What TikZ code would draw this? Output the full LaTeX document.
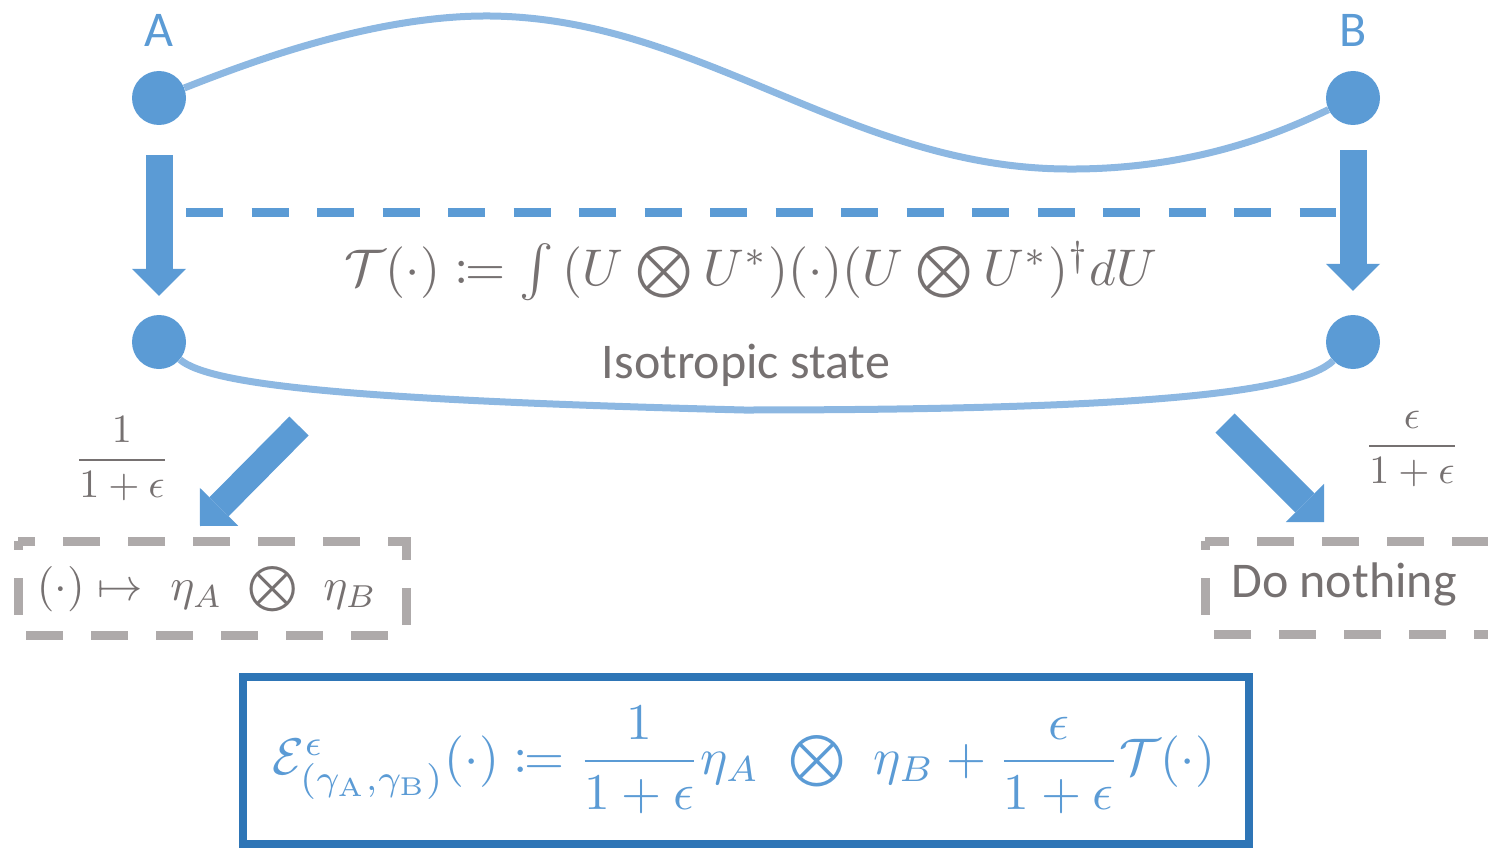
\documentclass[tikz,border=0pt]{standalone}
\usepackage{mathtools}
\usepackage{graphicx}
\usepackage{fontspec}
\usetikzlibrary{arrows.meta}
\newfontfamily\calib{Carlito}
\definecolor{nodeblue}{HTML}{5B9BD5}
\definecolor{linkblue}{HTML}{8DB8E2}
\definecolor{txtgray}{HTML}{767171}
\definecolor{boxgray}{HTML}{AEAAAA}
\definecolor{frameblue}{HTML}{2E75B6}
\newcommand{\bigtens}{\mathbin{\bigotimes}}
\begin{document}
\begin{tikzpicture}[x=1pt,y=-1pt,
  qubit/.style={circle,fill=nodeblue,minimum size=54pt,inner sep=0pt},
  link/.style={draw=linkblue,line width=7pt},
  fatarrow/.style={draw=nodeblue,line width=27pt,-{Triangle[length=27pt,width=54pt,line width=0pt]}},
  graybox/.style={draw=boxgray,line width=9pt,dash pattern=on 37pt off 28pt,dash phase=28pt},
  lbl/.style={font=\calib\fontsize{50}{60}\selectfont,inner sep=0pt},
  formula/.style={inner sep=0pt}]
\useasboundingbox (0,0) rectangle (1488,848);

% qubits
\node[qubit] (A) at (159,98) {};
\node[qubit] (B) at (1353,98) {};
\node[qubit] (A2) at (159,342) {};
\node[qubit] (B2) at (1353,342) {};
\node[lbl,text=nodeblue,anchor=base] (labA) at (159,47) {A};
\node[lbl,text=nodeblue,anchor=base] (labB) at (1353,47) {B};

% entangling links
\draw[link] (A) .. controls (260,58) and (380,15) .. (490,16)
  .. controls (700,18) and (850,168) .. (1067,169)
  .. controls (1200,170) and (1290,128) .. (B);
\draw[link] (A2) .. controls (210,385) and (350,400) .. (744,410)
  .. controls (1150,410) and (1300,392) .. (B2);

% twirl arrows
\draw[fatarrow,shorten <=30pt,shorten >=19pt] (A) -- (A2);
\draw[fatarrow,shorten <=25pt,shorten >=24pt] (B) -- (B2);
\coordinate (dashL) at (186,212);
\coordinate (dashR) at (1336,212);
\draw[draw=nodeblue,line width=9pt,dash pattern=on 37pt off 28.5pt] (dashL) -- (dashR);

\node[formula,text=txtgray] (Tdef) at (751,271)
  {\resizebox{813pt}{!}{$\mathcal{T}(\cdot)\coloneqq\int\,(U\bigtens U^{*})(\cdot)(U\bigtens U^{*})^{\dagger}dU$}};
\node[lbl,text=txtgray,anchor=base] (iso) at (746,378) {Isotropic state};

% branches
\coordinate (dl0) at (299,426);
\coordinate (dl1) at (200,526);
\coordinate (dr0) at (1225,423);
\coordinate (dr1) at (1324,522);
\draw[fatarrow] (dl0) -- (dl1);
\draw[fatarrow] (dr0) -- (dr1);

\node[formula,text=txtgray] (p1) at (122,459)
  {\resizebox{95pt}{!}{$\dfrac{1}{1+\epsilon}$}};
\node[formula,text=txtgray] (p2) at (1412,449)
  {\resizebox{95pt}{!}{$\dfrac{\epsilon}{1+\epsilon}$}};

\draw[graybox] (18,541) rectangle (406,635);
\node[formula,text=txtgray] (reset) at (207,589)
  {\resizebox{340pt}{!}{$(\cdot)\mapsto\ \eta_{A}\ \bigtens\ \eta_{B}$}};
\draw[graybox] (1205,541) rectangle (1500,634);
\node[lbl,text=txtgray,anchor=base] (nothing) at (1344,597) {Do nothing};

% channel definition
\draw[draw=frameblue,line width=8pt] (243,677) rectangle (1249,844);
\node[formula,text=nodeblue] (Edef) at (744,760)
  {\resizebox{942pt}{!}{$\mathcal{E}^{\epsilon}_{(\gamma_{\mathrm{A}},\gamma_{\mathrm{B}})}(\cdot)\coloneqq\dfrac{1}{1+\epsilon}\eta_{A}\ \bigtens\ \eta_{B}+\dfrac{\epsilon}{1+\epsilon}\mathcal{T}(\cdot)$}};
\end{tikzpicture}
\end{document}
